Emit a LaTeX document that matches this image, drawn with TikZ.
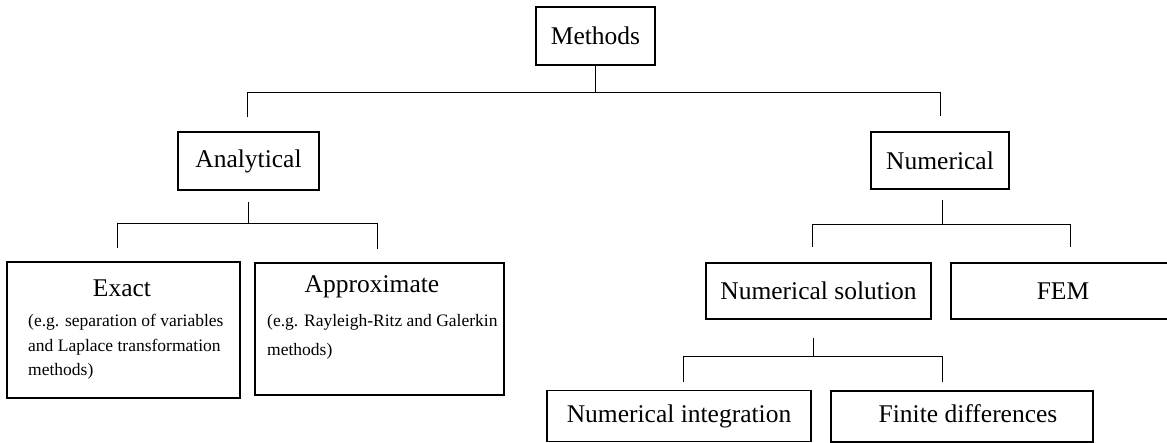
\documentclass[tikz,border=0pt]{standalone}
\usepackage{fontspec}
\setmainfont{Liberation Serif}
\usetikzlibrary{calc}

\tikzset{
  box/.style={draw, line width=1.7pt, rectangle, inner sep=0pt,
              font=\fontsize{25.5}{30}\selectfont},
  conn/.style={draw, line width=1pt},
  title/.style={inner sep=0pt, font=\fontsize{25.5}{30}\selectfont},
  note/.style={inner sep=0pt, align=left, anchor=west,
               font=\fontsize{17.5}{24.5}\selectfont}
}

\begin{document}
\begin{tikzpicture}[x=1pt, y=-1pt]
\useasboundingbox (0,0) rectangle (1167,443);
\clip (0,0) rectangle (1167,443);

% level 0
\node[box, minimum width=119pt, minimum height=58pt] (methods) at (595.5,36) {Methods};

% level 1
\node[box, minimum width=141pt, minimum height=58pt] (analytical) at (248.5,161) {Analytical};
\node[box, minimum width=138pt, minimum height=57pt] (numerical) at (940,160.5) {Numerical};

% level 2, analytical branch
\node[box, minimum width=233pt, minimum height=136pt] (exact) at (123.5,330) {};
\node[title] (exacttitle) at (122,288) {Exact};
\node[note] (exactnote) at (28,347) {(e.g. separation of variables\\and Laplace transformation\\methods)};

\node[box, minimum width=249pt, minimum height=132pt] (approx) at (379.5,329) {};
\node[title] (approxtitle) at (372,287) {Approximate};
\node[note, font=\fontsize{17.5}{29}\selectfont] (approxnote) at (267,337) {(e.g. Rayleigh-Ritz and Galerkin\\methods)};

% level 2, numerical branch
\node[box, minimum width=225pt, minimum height=56pt] (numsol) at (818.5,291) {Numerical solution};
\node[box, minimum width=221pt, minimum height=56pt] (fem) at (1061.5,291) {};
\node[title] (femtitle) at (1063,291) {FEM};

% level 3
\node[box, minimum width=264pt, minimum height=51pt] (numint) at (679,416) {Numerical integration};
\node[box, minimum width=262pt, minimum height=51pt] (findiff) at (962,416.5) {};
\node[title] (findifftitle) at (968,414) {Finite differences};

% connectors: Methods
\draw[conn] (methods.south) -- ++(0,27) coordinate (j0);
\draw[conn] ($(analytical.north)+(-1.5,-14)$) |- (j0) -| ($(numerical.north)+(0,-15)$);

% connectors: Analytical
\draw[conn] ($(analytical.south)+(-0.5,11)$) -- ++(0,22) coordinate (j1);
\draw[conn] ($(exact.north)+(-6.5,-13)$) |- (j1) -| ($(approx.north)+(-2.5,-13)$);

% connectors: Numerical
\draw[conn] ($(numerical.south)+(2,10)$) -- ++(0,25) coordinate (j2);
\draw[conn] ($(numsol.north)+(-6.5,-15)$) |- (j2) -| ($(fem.north)+(8.5,-15)$);

% connectors: Numerical solution
\draw[conn] ($(numsol.south)+(-5.5,18)$) -- ++(0,19) coordinate (j3);
\draw[conn] ($(numint.north)+(4,-8)$) |- (j3) -| ($(findiff.north)+(-20,-8.5)$);
\end{tikzpicture}
\end{document}
